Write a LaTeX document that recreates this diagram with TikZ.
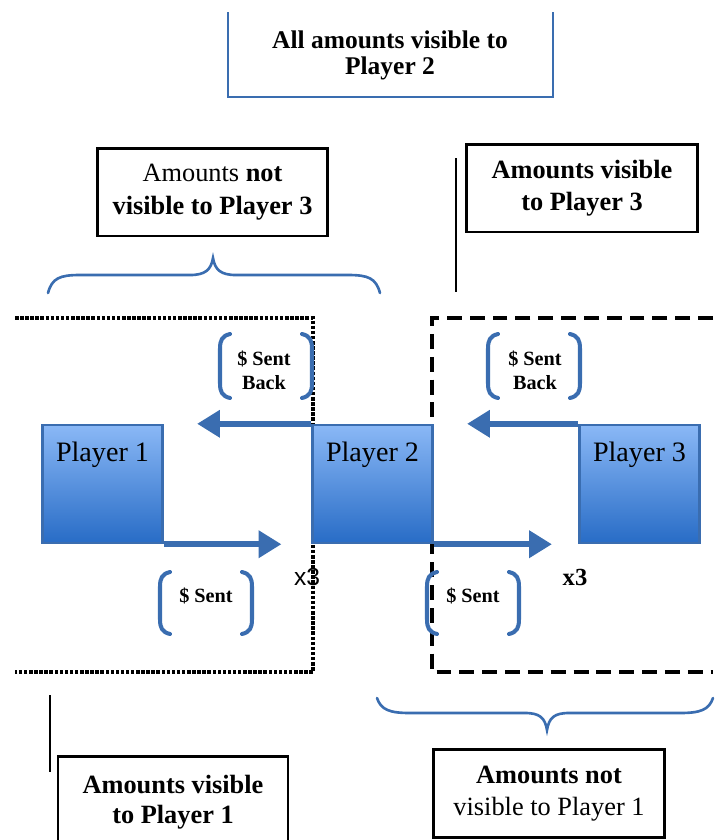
\documentclass[tikz,border=0pt]{standalone}
\usepackage{fontspec}
\setmainfont{Liberation Serif}
\setsansfont{Liberation Sans}
\usetikzlibrary{arrows.meta,calc}
\definecolor{frameblue}{RGB}{58,109,176}
\definecolor{boxtop}{RGB}{138,184,246}
\definecolor{boxbot}{RGB}{40,108,198}
% bracket pair round a money label: (centre x,centre y)(half width,half height)
\def\bracketpair(#1,#2)(#3,#4){%
	\draw[brk] ({#1-#3+10},{#2-#4}) .. controls ({#1-#3+2},{#2-#4+2}) and ({#1-#3},{#2-#4+6}) .. ({#1-#3},{#2-#4+15}) -- ({#1-#3},{#2+#4-15}) .. controls ({#1-#3},{#2+#4-6}) and ({#1-#3+2},{#2+#4-2}) .. ({#1-#3+10},{#2+#4});
	\draw[brk] ({#1+#3-10},{#2-#4}) .. controls ({#1+#3-2},{#2-#4+2}) and ({#1+#3},{#2-#4+6}) .. ({#1+#3},{#2-#4+15}) -- ({#1+#3},{#2+#4-15}) .. controls ({#1+#3},{#2+#4-6}) and ({#1+#3-2},{#2+#4-2}) .. ({#1+#3-10},{#2+#4});}

\begin{document}
\begin{tikzpicture}[x=0.02cm,y=-0.02cm,
	player/.style={draw=frameblue,line width=1.4pt,top color=boxtop,bottom color=boxbot,minimum width=2.4cm,minimum height=2.36cm,inner sep=0pt},
	plabel/.style={anchor=center,yshift=-17.5pt,font=\fontsize{16}{18}\selectfont},
	flow/.style={draw=frameblue,line width=3.4pt,-{Triangle[length=13pt,width=15pt]}},
	brk/.style={draw=frameblue,line width=2.3pt,line cap=round},
	brc/.style={draw=frameblue,line width=1.5pt,line cap=round},
	note/.style={draw,line width=1.7pt,minimum width=4.62cm,minimum height=1.76cm,inner sep=2pt,align=center,font=\bfseries\fontsize{15}{18.5}\selectfont},
	sent/.style={align=center,font=\bfseries\fontsize{11.5}{13.6}\selectfont}]
		\useasboundingbox (0,0) rectangle (719,840);
		%%%%% notes on top %%%%%
		\node[align=center,font=\bfseries\fontsize{14.5}{14.7}\selectfont] (all2) at (390,55) {All amounts visible to\\Player 2};
		\draw[frameblue,line width=1.5pt] (228,12) -- (228,97) -- (553,97) -- (553,12);
		
		\node[note] (hid3) at (212.5,192) {{\mdseries Amounts} not\\visible to Player 3};
		\node[note] (vis3) at (582,188) {Amounts visible\\to Player 3};
		\draw[line width=1.7pt] (456,158) -- (456,292);
		\draw[brc] (48,293) .. controls (52,278) and (60,275) .. (80,275) -- (190,275) .. controls (205,275) and (211,270) .. (213,258) .. controls (215,270) and (221,275) .. (236,275) -- (348,275) .. controls (368,275) and (376,278) .. (380,293);
		
		%%%%% visibility frames %%%%%
		\draw[line width=2pt,dash pattern=on 2pt off 0.9pt] (15,318) -- (313,318) -- (313,672) -- (15,672);
		\draw[line width=2.3pt,dash pattern=on 8.5pt off 4.5pt] (713,318) -- (432,318) -- (432,672) -- (713,672);
		
		%%%%% players %%%%%
		\node[player,label={[plabel]north:Player 1}] (p1) at (102.5,484) {};
		\node[player,label={[plabel]north:Player 2}] (p2) at (372.5,484) {};
		\node[player,label={[plabel]north:Player 3}] (p3) at (639.5,484) {};
		
		\draw[flow,shorten >=17pt] (p1.south east) -- (p2.south west);
		\draw[flow,shorten >=19pt] (p2.north west) -- (p1.north east);
		\draw[flow,shorten >=15pt] (p2.south east) -- (p3.south west);
		\draw[flow,shorten >=19pt] (p3.north west) -- (p2.north east);
		
		%%%%% money labels %%%%%
		\node[sent] (back12) at (264,370) {\$ Sent\\Back};
		\bracketpair(266,366)(46,32);
		\node[sent] (back23) at (535,370) {\$ Sent\\Back};
		\bracketpair(534,366)(46,32);
		\node[sent] (sent12) at (206,596) {\$ Sent};
		\bracketpair(206,603)(46,31);
		\node[sent] (sent23) at (473,596) {\$ Sent};
		\bracketpair(473,603)(46,31);
		
		\node[font=\sffamily\fontsize{14}{16}\selectfont] (x3a) at (307,577) {x3};
		\node[font=\bfseries\fontsize{14}{16}\selectfont] (x3b) at (575,577) {x3};
		
		%%%%% notes at bottom %%%%%
		\draw[brc] (377,698) .. controls (381,710) and (390,713) .. (410,713) -- (525,713) .. controls (540,713) and (545,718) .. (547,730) .. controls (549,718) and (554,713) .. (569,713) -- (680,713) .. controls (700,713) and (709,710) .. (713,698);
		\node[note] (hid1) at (549,793.5) {Amounts not\\{\mdseries visible to Player 1}};
		
		\draw[line width=1.7pt] (50,695) -- (50,772);
		\node[align=center,font=\bfseries\fontsize{15}{17}\selectfont] (vis1) at (173,802) {Amounts visible\\to Player 1};
		\draw[line width=1.7pt] (58,840) -- (58,756) -- (288,756) -- (288,840);
\end{tikzpicture}
\end{document}
